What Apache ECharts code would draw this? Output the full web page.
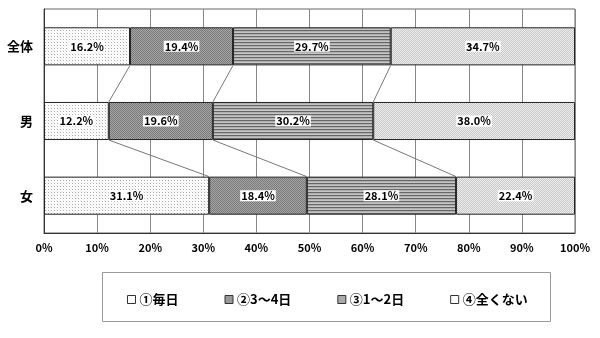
<!DOCTYPE html>
<html><head><meta charset="utf-8">
<script src="https://cdn.jsdelivr.net/npm/echarts@6/dist/echarts.min.js"></script>
<style>html,body{margin:0;padding:0;background:#fff}#c{width:600px;height:338px}</style>
</head><body><div id="c"></div>
<script>
var categories = ['全体', '男', '女'];
var seriesNames = ['①毎日', '②3～4日', '③1～2日', '④全くない'];
var daily = [16.2, 12.2, 31.1];
var days34 = [19.4, 19.6, 18.4];
var days12 = [29.7, 30.2, 28.1];
var never = [34.7, 38.0, 22.4];
var xTicks = [0, 10, 20, 30, 40, 50, 60, 70, 80, 90, 100];

function pattern(w, h, cells) {
  var c = document.createElement('canvas'); c.width = w; c.height = h;
  var g = c.getContext('2d');
  for (var y = 0; y < h; y++) for (var x = 0; x < w; x++) {
    g.fillStyle = cells[y * w + x]; g.fillRect(x, y, 1, 1);
  }
  return { image: c, repeat: 'repeat' };
}
var fills = [
  pattern(3, 3, ['#aaa','#fff','#fff','#fff','#f4f4f4','#fff','#fff','#fff','#eee']),
  pattern(2, 2, ['#777','#a8a8a8','#a8a8a8','#777']),
  pattern(1, 3, ['#666','#b0b0b0','#c4c4c4']),
  pattern(2, 2, ['#eee','#c8c8c8','#c8c8c8','#eee'])
];
var legendIcons = ['#fff', '#999', '#aaa', '#fff'];
var values = [daily, days34, days12, never];
var barRatio = 0.51;

// series-line data built from the cumulative values
var linkData = [];
for (var i = 0; i < categories.length - 1; i++) {
  var a = 0, b = 0;
  for (var s = 0; s < values.length - 1; s++) {
    a += values[s][i]; b += values[s][i + 1];
    linkData.push([a, i, b, i + 1]);
  }
}

var series = values.map(function (v, k) {
  return {
    name: seriesNames[k], type: 'bar', stack: 'total', barWidth: (barRatio * 100) + '%',
    data: v,
    itemStyle: { color: fills[k], borderColor: '#222', borderWidth: 1 },
    label: {
      show: true, position: 'inside',
      formatter: function (p) { return p.value.toFixed(1) + '%'; },
      color: '#000', fontSize: 11, fontWeight: 'bold', fontFamily: 'Noto Sans CJK JP',
      backgroundColor: '#fff', padding: [0, 1, 0, 1]
    }
  };
});
series.push({
  type: 'custom', name: 'links', silent: true, z: 1,
  encode: { x: [0, 2], y: [1, 3] },
  data: linkData,
  renderItem: function (params, api) {
    var p1 = api.coord([api.value(0), api.value(1)]);
    var p2 = api.coord([api.value(2), api.value(3)]);
    var band = api.size([0, 1])[1];
    var h = band * barRatio / 2;
    return { type: 'line', shape: { x1: p1[0], y1: p1[1] + h, x2: p2[0], y2: p2[1] - h },
             style: { stroke: '#777', lineWidth: 1 } };
  }
});

var chart = echarts.init(document.getElementById('c'), null, { renderer: 'canvas' });
chart.setOption({
  animation: false,
  backgroundColor: '#fff',
  grid: { left: 44, right: 25, top: 9, bottom: 105, show: true, borderColor: '#666', borderWidth: 1 },
  xAxis: {
    type: 'value', min: xTicks[0], max: xTicks[xTicks.length - 1], interval: 10,
    axisLine: { show: true, lineStyle: { color: '#333' } }, axisTick: { show: false },
    axisLabel: { formatter: '{value}%', color: '#000', fontSize: 11, fontWeight: 'bold', margin: 9, fontFamily: 'Noto Sans CJK JP' },
    splitLine: { show: true, lineStyle: { color: '#888', width: 1 } }
  },
  yAxis: {
    type: 'category', inverse: true, data: categories,
    axisLine: { show: true, lineStyle: { color: '#333' } }, axisTick: { show: false },
    axisLabel: { color: '#000', fontSize: 13, fontWeight: 'bold', margin: 11, fontFamily: 'Noto Sans CJK JP' }
  },
  legend: {
    left: 122, top: 288, itemGap: 46, itemWidth: 8, itemHeight: 8,
    data: seriesNames.map(function (n, k) {
      return { name: n, icon: 'rect', itemStyle: { color: legendIcons[k], borderColor: '#333', borderWidth: 1 } };
    }),
    textStyle: { color: '#000', fontSize: 13, fontWeight: 'bold', fontFamily: 'Noto Sans CJK JP', padding: [0, 0, 0, -1] }
  },
  graphic: [{
    type: 'rect', left: 102, top: 272, z: -1, silent: true,
    shape: { width: 448, height: 49 },
    style: { fill: '#fff', stroke: '#999', lineWidth: 1 }
  }],
  series: series
});
</script>
</body></html>
